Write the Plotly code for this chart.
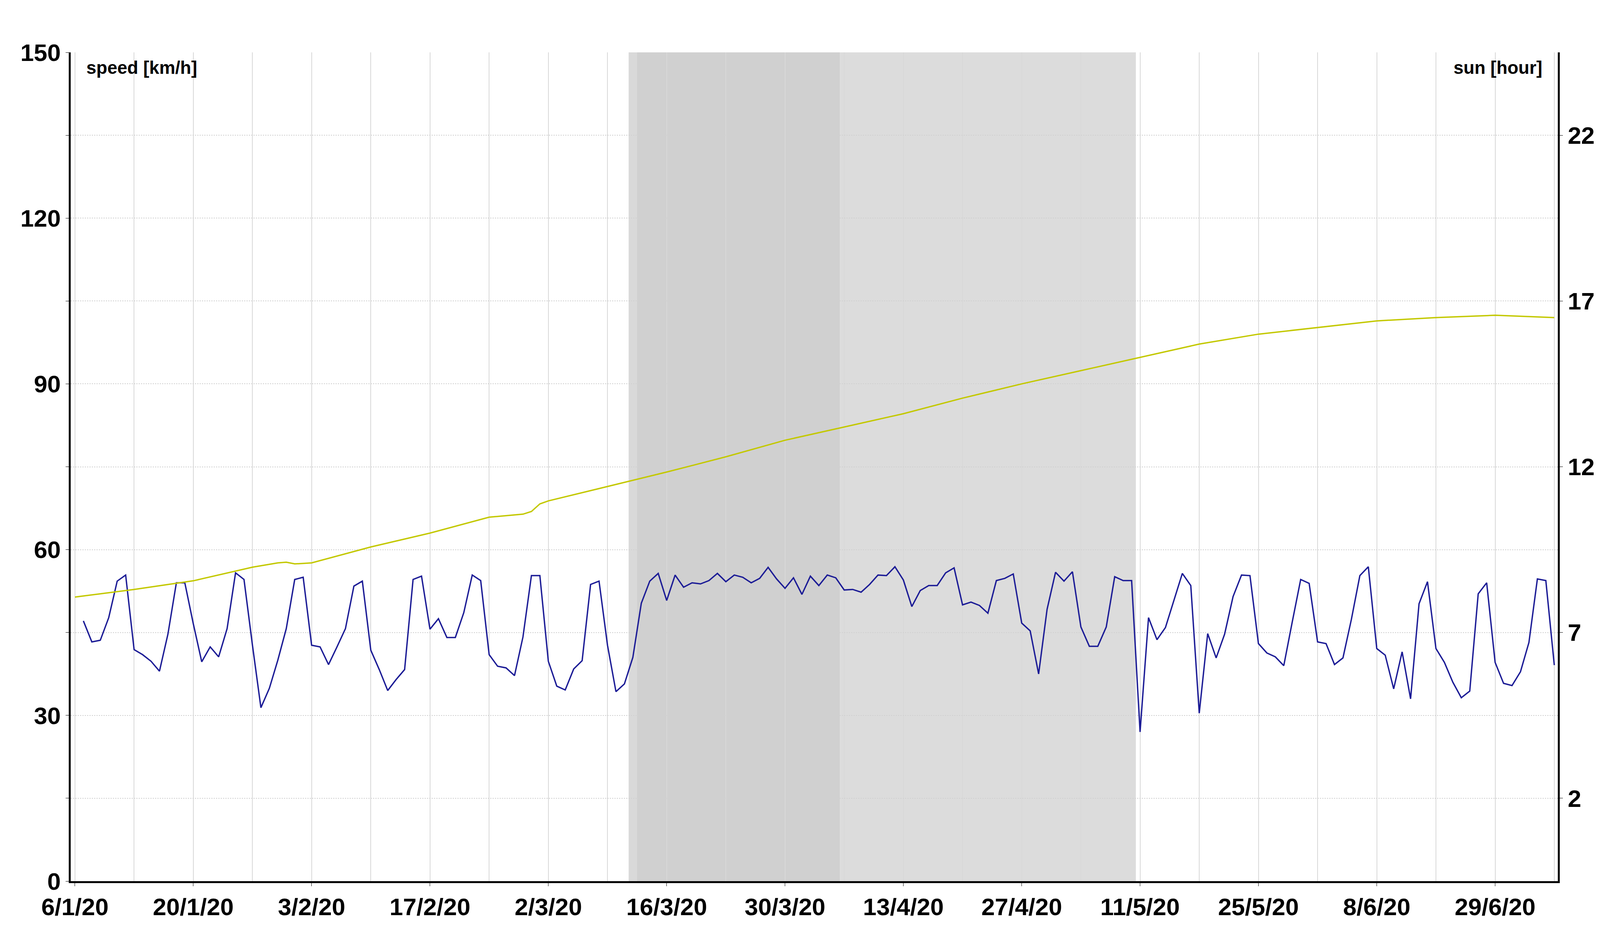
import pandas as pd
import plotly.graph_objects as go

# daily average speed, 7/1/20 .. 29/6/20
speed = [
    47.1, 43.3, 43.6, 47.7, 54.3, 55.4, 41.9, 41.0, 39.8, 38.0, 44.7, 54.0, 54.0,
    46.6, 39.7, 42.4, 40.6, 45.7, 55.8, 54.6, 42.7, 31.4, 34.9, 40.0, 45.7, 54.6, 55.0,
    42.7, 42.4, 39.2, 42.4, 45.7, 53.4, 54.3, 41.8, 38.3, 34.5, 36.5, 38.3, 54.6, 55.2,
    45.6, 47.5, 44.1, 44.1, 48.6, 55.4, 54.4, 41.0, 38.9, 38.6, 37.2, 44.2, 55.3, 55.3,
    39.8, 35.3, 34.6, 38.4, 39.9, 53.7, 54.3, 42.7, 34.3, 35.7, 40.5, 50.3, 54.3, 55.7,
    50.8, 55.4, 53.2, 54.0, 53.8, 54.4, 55.7, 54.2, 55.4, 55.0, 54.0, 54.8, 56.8, 54.7,
    53.0, 54.9, 51.9, 55.2, 53.5, 55.4, 54.9, 52.7, 52.8, 52.3, 53.7, 55.4, 55.3, 56.9,
    54.5, 49.7, 52.6, 53.5, 53.5, 55.8, 56.7, 50.0, 50.5, 49.9, 48.5, 54.4, 54.8, 55.6,
    46.7, 45.3, 37.5, 49.2, 55.9, 54.3, 56.0, 46.0, 42.5, 42.5, 46.0, 55.1, 54.4, 54.4,
    27.0, 47.7, 43.7, 45.9, 50.8, 55.7, 53.5, 30.4, 44.8, 40.4, 44.7, 51.5, 55.4, 55.3,
    43.0, 41.3, 40.6, 39.0, 46.9, 54.6, 53.9, 43.3, 43.0, 39.2, 40.4, 47.4, 55.3, 56.9,
    42.1, 40.9, 34.8, 41.5, 33.0, 50.2, 54.2, 42.1, 39.6, 36.0, 33.2, 34.4, 52.0, 54.0,
    39.6, 35.8, 35.4, 37.9, 43.2, 54.7, 54.4, 39.1,
]
speed_dates = pd.date_range("2020-01-07", periods=len(speed), freq="D")

# hours of sunlight
sun_dates = pd.to_datetime([
    "2020-01-06", "2020-01-13", "2020-01-20", "2020-01-27", "2020-01-30", "2020-01-31",
    "2020-02-01", "2020-02-03", "2020-02-10", "2020-02-17", "2020-02-24", "2020-02-28",
    "2020-02-29", "2020-03-01", "2020-03-02", "2020-03-09", "2020-03-16", "2020-03-23",
    "2020-03-30", "2020-04-06", "2020-04-13", "2020-04-20", "2020-04-27", "2020-05-04",
    "2020-05-11", "2020-05-18", "2020-05-25", "2020-06-01", "2020-06-08", "2020-06-15",
    "2020-06-22", "2020-06-29",
])
sun = [
    8.07, 8.3, 8.56, 8.97, 9.1, 9.12, 9.07, 9.1, 9.58, 10.0, 10.48, 10.57,
    10.65, 10.88, 10.97, 11.4, 11.84, 12.3, 12.8, 13.2, 13.6, 14.07, 14.5, 14.9,
    15.3, 15.7, 16.0, 16.2, 16.4, 16.5, 16.57, 16.5,
]

tick_dates = pd.date_range("2020-01-06", "2020-06-22", freq="14D")
tick_labels = ["6/1/20", "20/1/20", "3/2/20", "17/2/20", "2/3/20", "16/3/20", "30/3/20",
               "13/4/20", "27/4/20", "11/5/20", "25/5/20", "8/6/20", "29/6/20"]

speed_ticks = list(range(0, 151, 15))
speed_labels = [str(v) if v % 30 == 0 else "" for v in speed_ticks]
sun_ticks = [2, 7, 12, 17, 22]

FONT = "Liberation Sans, Arial"

fig = go.Figure()
fig.add_trace(go.Scatter(x=sun_dates, y=sun, yaxis="y2", mode="lines",
                         line=dict(color="#c3c800", width=3.5), showlegend=False))
fig.add_trace(go.Scatter(x=speed_dates, y=speed, mode="lines",
                         line=dict(color="#1c1c96", width=3.5), showlegend=False))

# lockdown periods
fig.add_vrect(x0="2020-03-11 12:00", x1="2020-03-12 12:00", fillcolor="#d9d9d9",
              line_width=0, layer="below")
fig.add_vrect(x0="2020-03-12 12:00", x1="2020-04-05 12:00", fillcolor="#d0d0d0",
              line_width=0, layer="below")
fig.add_vrect(x0="2020-04-05 12:00", x1="2020-05-10 12:00", fillcolor="#dcdcdc",
              line_width=0, layer="below")

fig.add_annotation(text="<b>speed [km/h]</b>", xref="paper", yref="paper", x=0.01, y=0.995,
                   xanchor="left", yanchor="top", showarrow=False,
                   font=dict(size=46, family=FONT, color="black"))
fig.add_annotation(text="<b>sun [hour]</b>", xref="paper", yref="paper", x=0.99, y=0.995,
                   xanchor="right", yanchor="top", showarrow=False,
                   font=dict(size=46, family=FONT, color="black"))

fig.update_layout(
    width=4112, height=2380,
    margin=dict(l=173, r=132, t=126, b=133),
    plot_bgcolor="white", paper_bgcolor="white",
    font=dict(family=FONT, color="black"),
    xaxis=dict(type="date", range=["2020-01-05 12:00", "2020-06-29 10:00"], automargin=False,
               tickvals=tick_dates, ticktext=["<b>%s</b>" % t for t in tick_labels],
               tickfont=dict(size=62), showgrid=True, gridcolor="#d8d8d8", gridwidth=2,
               minor=dict(dtick=7 * 86400000, tick0="2020-01-06", showgrid=True,
                          gridcolor="#d8d8d8", gridwidth=2),
               showline=True, linecolor="black", linewidth=5, ticks="outside",
               ticklen=8, tickcolor="black", zeroline=False),
    yaxis=dict(range=[0, 150], tickvals=speed_ticks, automargin=False,
               ticktext=["<b>%s</b>" % t for t in speed_labels], tickfont=dict(size=62),
               showgrid=True, gridcolor="#d0d0d0", griddash="dot", gridwidth=2,
               showline=True, linecolor="black", linewidth=5, ticks="outside",
               ticklen=8, tickcolor="black", zeroline=False),
    yaxis2=dict(range=[-0.5, 24.5], overlaying="y", side="right", tickvals=sun_ticks,
                automargin=False,
                ticktext=["<b>%d</b>" % t for t in sun_ticks], tickfont=dict(size=62),
                showgrid=False, showline=True, linecolor="black", linewidth=5,
                ticks="outside", ticklen=8, tickcolor="black", zeroline=False),
)

fig.write_html("out.html")
